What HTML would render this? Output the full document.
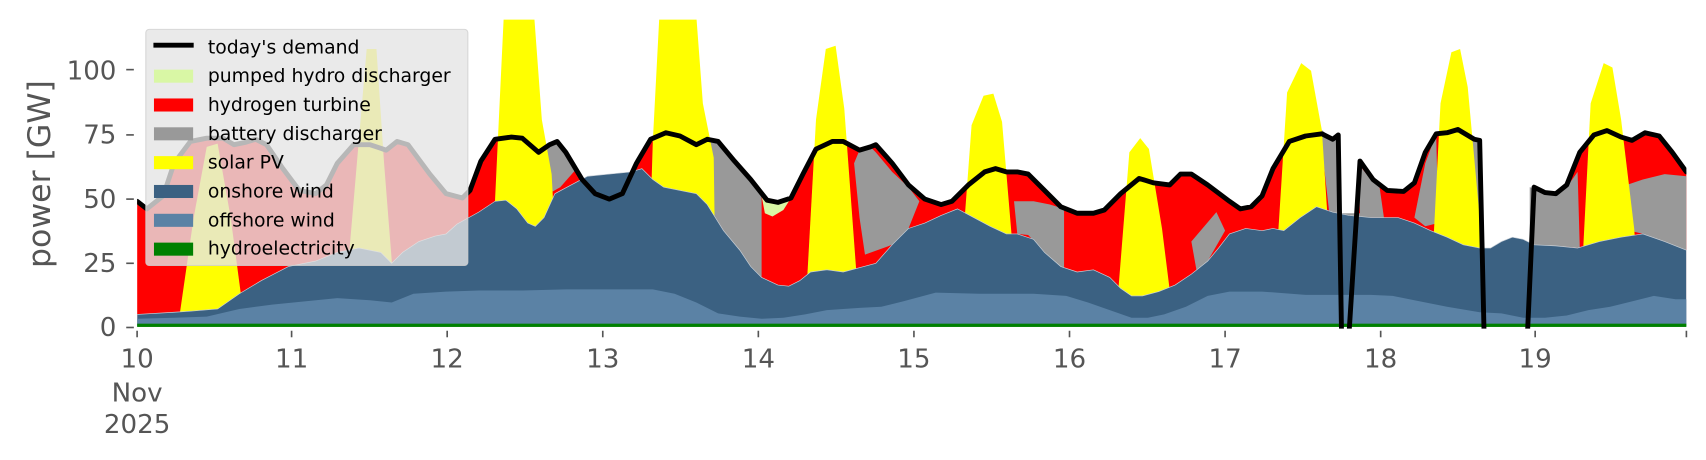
<!DOCTYPE html>
<html><head><meta charset="utf-8"><style>
html,body{margin:0;padding:0;background:#fff;}
svg{display:block;font-family:"DejaVu Sans","Liberation Sans",sans-serif;}
</style></head><body>
<svg width="1706" height="460" viewBox="0 0 1568 422.8" xmlns="http://www.w3.org/2000/svg">
<defs><clipPath id="c"><rect x="126" y="18" width="1424" height="284"/></clipPath></defs>
<g clip-path="url(#c)">
<path fill="#ff0000" d="M126,185 L135,192 L150,180 L160,150 L175,130 L190,127 L205,127 L215,133 L225,131 L235,128 L245,133 L260,155 L275,175 L290,178 L300,170 L310,150 L325,133 L340,133 L355,138 L365,130 L375,133 L395,160 L410,178 L425,182 L432,175 L442,148 L455,128 L470,126 L480,127 L495,140 L505,133 L512,130 L520,140 L535,165 L547,178 L560,183 L572,178 L585,150 L598,128 L612,122 L625,125 L640,133 L650,128 L660,130 L675,148 L690,165 L705,184 L715,186 L727,182 L738,160 L750,137 L765,130 L775,130 L790,138 L800,135 L805,133 L820,150 L835,170 L850,183 L865,188 L875,185 L890,170 L905,158 L915,155 L925,158 L935,158 L945,160 L960,175 L975,190 L990,196 L1005,196 L1015,193 L1030,178 L1047,164 L1060,168 L1075,170 L1085,160 L1095,160 L1110,170 L1130,185 L1140,192 L1150,190 L1160,180 L1170,155 L1185,130 L1200,125 L1215,123 L1225,128 L1230,125 L1230,300 L126,300 Z"/>
<path fill="#ff0000" d="M1248,148 L1262,165 L1275,175 L1290,176 L1300,168 L1310,140 L1320,123 L1330,122 L1340,119 L1355,128 L1362,129 L1362,300 L1248,300 Z"/>
<path fill="#ff0000" d="M1408,172 L1420,177 L1430,178 L1440,170 L1452,140 L1465,124 L1477,120 L1490,126 L1500,129 L1512,122 L1525,125 L1537,140 L1550,158 L1550,300 L1408,300 Z"/>
<g fill="#999999">
<path d="M495,140 L505,133 L512,130 L520,140 L530,155 L515,172 L508,176 L500,160 Z"/>
<path d="M648,128 L660,130 L675,148 L690,165 L700,180 L700,258 L690,245 L665,212 L650,188 Z"/>
<path d="M785,150 L790,138 L800,135 L805,140 L820,158 L835,172 L845,185 L835,210 L820,225 L795,234 L790,200 Z"/>
<path d="M932,185 L950,185 L965,188 L978,192 L978,248 L960,232 L945,216 L935,215 Z"/>
<path d="M1095,222 L1118,195 L1126,212 L1110,240 L1100,250 Z"/>
<path d="M1213,118 L1225,128 L1232,125 L1232,198 L1222,198 Z"/>
<path d="M1232,196 L1250,196 L1248,150 L1260,165 L1268,172 L1272,200 L1232,200 Z"/>
<path d="M1300,200 L1310,150 L1320,123 L1322,205 L1310,208 Z"/>
<path d="M1346,122 L1362,129 L1364,228 L1355,215 Z"/>
<path d="M1406,172 L1420,177 L1430,178 L1440,172 L1450,158 L1452,228 L1430,226 L1406,225 Z"/>
<path d="M1495,170 L1510,165 L1530,160 L1550,162 L1550,232 L1530,222 L1510,215 L1498,212 Z"/>
</g>
<path fill="#d9f7a5" d="M700,180 L715,186 L727,182 L720,193 L710,199 L703,196 Z"/>
<g fill="#ffff00">
<path d="M165,290 L178,200 L190,135 L200,132 L212,200 L224,290 Z"/>
<path d="M316,290 L328,150 L337,45 L346,45 L353,150 L364,290 Z"/>
<path d="M450,290 L458,120 L463,15 L491,15 L498,110 L507,160 L514,290 Z"/>
<path d="M595,290 L600,130 L606,15 L640,15 L646,95 L656,145 L658,290 Z"/>
<path d="M740,290 L750,110 L759,45 L768,42 L776,100 L790,290 Z"/>
<path d="M880,290 L893,115 L904,88 L913,86 L921,112 L936,290 Z"/>
<path d="M1026,290 L1038,140 L1048,127 L1056,137 L1068,210 L1078,290 Z"/>
<path d="M1170,290 L1183,85 L1196,58 L1205,65 L1215,120 L1226,290 Z"/>
<path d="M1314,290 L1324,95 L1334,48 L1342,45 L1349,80 L1360,200 L1366,290 Z"/>
<path d="M1452,290 L1462,95 L1474,58 L1482,62 L1490,110 L1502,210 L1508,290 Z"/>
</g>
<path fill="#3b6182" stroke="#c8d0d8" stroke-width="0.6" d="M126,289 L160,287 L175,286 L200,284 L220,270 L240,258 L265,245 L290,240 L310,232 L330,228 L350,232 L360,242 L370,232 L385,222 L400,217 L410,215 L420,206 L440,195 L455,185 L465,184 L475,192 L485,205 L492,208 L500,200 L510,178 L525,170 L540,162 L560,160 L580,158 L590,155 L600,165 L610,172 L625,175 L640,178 L650,188 L665,212 L680,230 L690,245 L700,255 L715,262 L725,263 L735,258 L745,250 L760,248 L775,250 L790,246 L805,242 L820,225 L835,210 L850,205 L865,198 L880,192 L895,200 L910,208 L925,215 L935,215 L950,220 L960,232 L975,245 L990,250 L1005,248 L1020,255 L1030,265 L1040,272 L1050,272 L1065,268 L1080,262 L1095,252 L1110,240 L1120,228 L1130,215 L1145,210 L1160,212 L1170,210 L1180,212 L1195,200 L1210,190 L1225,195 L1240,198 L1260,200 L1285,200 L1300,205 L1315,212 L1330,218 L1345,225 L1360,228 L1370,228 L1380,222 L1390,218 L1400,220 L1410,225 L1430,226 L1450,228 L1470,222 L1490,218 L1510,215 L1530,222 L1550,230 L1550,300 L126,300 Z"/>
<path fill="#5b82a5" d="M126,293 L160,292 L190,291 L220,284 L250,280 L280,277 L310,274 L340,276 L360,278 L380,270 L410,268 L440,267 L480,267 L520,266 L600,266 L620,270 L640,278 L660,288 L680,291 L700,293 L720,292 L740,289 L760,285 L790,283 L810,282 L830,277 L860,269 L900,270 L950,270 L980,272 L1000,278 L1020,285 L1040,292 L1055,292 L1070,289 L1090,282 L1110,272 L1130,268 L1160,268 L1200,271 L1260,271 L1280,272 L1300,276 L1330,282 L1360,287 L1380,288 L1400,292 L1420,292 L1440,290 L1460,285 L1480,282 L1500,277 L1520,272 L1540,275 L1550,275 L1550,300 L126,300 Z"/>
<rect x="126" y="297.5" width="1424" height="3" fill="#008000"/>
<g fill="none" stroke="#000" stroke-width="4.5" stroke-linejoin="round" stroke-linecap="round">
<path d="M126,185 L135,192 L150,180 L160,150 L175,130 L190,127 L205,127 L215,133 L225,131 L235,128 L245,133 L260,155 L275,175 L290,178 L300,170 L310,150 L325,133 L340,133 L355,138 L365,130 L375,133 L395,160 L410,178 L425,182 L432,175 L442,148 L455,128 L470,126 L480,127 L495,140 L505,133 L512,130 L520,140 L535,165 L547,178 L560,183 L572,178 L585,150 L598,128 L612,122 L625,125 L640,133 L650,128 L660,130 L675,148 L690,165 L705,184 L715,186 L727,182 L738,160 L750,137 L765,130 L775,130 L790,138 L800,135 L805,133 L820,150 L835,170 L850,183 L865,188 L875,185 L890,170 L905,158 L915,155 L925,158 L935,158 L945,160 L960,175 L975,190 L990,196 L1005,196 L1015,193 L1030,178 L1047,164 L1060,168 L1075,170 L1085,160 L1095,160 L1110,170 L1130,185 L1140,192 L1150,190 L1160,180 L1170,155 L1185,130 L1200,125 L1215,123 L1225,128 L1230,124 L1233,305 M1240,305 L1250,148 L1262,165 L1275,175 L1290,176 L1300,168 L1310,140 L1320,123 L1330,122 L1340,119 L1355,128 L1360,129 L1364,305 M1404,305 L1410,172 L1420,177 L1430,178 L1440,170 L1452,140 L1465,124 L1477,120 L1490,126 L1500,129 L1512,122 L1525,125 L1537,140 L1550,158"/>
</g>
</g>
<rect x="134" y="27" width="296" height="217" rx="3" fill="#e5e5e5" fill-opacity="0.8" stroke="#d0d0d0" stroke-opacity="0.8"/>
<line x1="141" y1="41.5" x2="178" y2="41.5" stroke="#000" stroke-width="4.5"/>
<rect x="141.5" y="64" width="36" height="12" fill="#d9f7a5"/>
<rect x="141.5" y="90.5" width="36" height="12" fill="#ff0000"/>
<rect x="141.5" y="117" width="36" height="12" fill="#999999"/>
<rect x="141.5" y="143.5" width="36" height="12" fill="#ffff00"/>
<rect x="141.5" y="170" width="36" height="12" fill="#3b6182"/>
<rect x="141.5" y="196.5" width="36" height="12" fill="#5b82a5"/>
<rect x="141.5" y="223" width="36" height="12" fill="#008000"/>
<g font-size="17.3" fill="#000">
<text x="191" y="49">today's demand</text>
<text x="191" y="75.5">pumped hydro discharger</text>
<text x="191" y="102">hydrogen turbine</text>
<text x="191" y="128.5">battery discharger</text>
<text x="191" y="155">solar PV</text>
<text x="191" y="181.5">onshore wind</text>
<text x="191" y="208">offshore wind</text>
<text x="191" y="234">hydroelectricity</text>
</g>
<g font-size="24" fill="#555" text-anchor="end">
<text x="107" y="309">0</text>
<text x="107" y="250">25</text>
<text x="107" y="191">50</text>
<text x="107" y="132">75</text>
<text x="107" y="73">100</text>
</g>
<g stroke="#555" stroke-width="1.5">
<line x1="116" y1="301" x2="123" y2="301"/><line x1="116" y1="242" x2="123" y2="242"/><line x1="116" y1="183" x2="123" y2="183"/><line x1="116" y1="124" x2="123" y2="124"/><line x1="116" y1="64" x2="123" y2="64"/>
<line x1="126" y1="304" x2="126" y2="310"/><line x1="268" y1="304" x2="268" y2="310"/><line x1="411" y1="304" x2="411" y2="310"/><line x1="554" y1="304" x2="554" y2="310"/><line x1="697" y1="304" x2="697" y2="310"/><line x1="840" y1="304" x2="840" y2="310"/><line x1="983" y1="304" x2="983" y2="310"/><line x1="1126" y1="304" x2="1126" y2="310"/><line x1="1269" y1="304" x2="1269" y2="310"/><line x1="1411" y1="304" x2="1411" y2="310"/><line x1="1550" y1="304" x2="1550" y2="310"/>
</g>
<text transform="translate(46,160) rotate(-90)" font-size="29" fill="#555" text-anchor="middle">power [GW]</text>
<g font-size="24" fill="#555" text-anchor="middle">
<text x="126" y="338">10</text><text x="126" y="369">Nov</text><text x="126" y="398">2025</text>
<text x="268" y="338">11</text><text x="411" y="338">12</text><text x="554" y="338">13</text><text x="697" y="338">14</text><text x="840" y="338">15</text><text x="983" y="338">16</text><text x="1126" y="338">17</text><text x="1269" y="338">18</text><text x="1411" y="338">19</text>
</g>
</svg>
</body></html>
